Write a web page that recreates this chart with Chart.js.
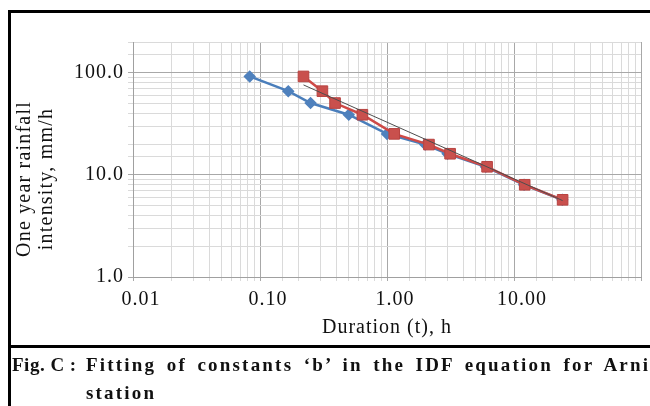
<!DOCTYPE html>
<html lang="en">
<head>
<meta charset="UTF-8">
<script src="https://cdn.jsdelivr.net/npm/chart.js"></script>
<style>
  body, html {
    margin: 0;
    padding: 0;
    background: #fff;
  }
  .page {
    position: relative;
    width: 650px;
    height: 406px;
    overflow: hidden;
    font-family: 'Liberation Serif', 'DejaVu Serif', serif;
  }
  .frame {
    position: absolute;
    left: 8px;
    top: 10px;
    width: 700px;
    height: 420px;
    border: 3px solid #000;
  }
  .separator {
    position: absolute;
    left: 8px;
    top: 345px;
    width: 700px;
    height: 3px;
    background: #000;
  }
  #chart {
    position: absolute;
    left: 0;
    top: 0;
  }
  .y-title {
    position: absolute;
    left: 34px;
    top: 179px;
    transform: translate(-50%, -50%) rotate(-90deg);
    white-space: nowrap;
    text-align: center;
    font-size: 20px;
    line-height: 22px;
    letter-spacing: 1.2px;
    color: #111;
  }
  .caption {
    position: absolute;
    font-weight: bold;
    font-size: 19px;
    letter-spacing: 0.5px;
    white-space: nowrap;
    color: #111;
  }
  .caption.wide {
    letter-spacing: 2.2px;
    word-spacing: 3.5px;
  }
</style>
</head>
<body>
<div class="page">
  <canvas id="chart" width="650" height="345"></canvas>
  <div class="frame"></div>
  <div class="separator"></div>
  <div class="y-title">One year rainfall<br>intensity, mm/h</div>
  <div class="caption" style="left:12px; top:354px;">Fig. C :</div>
  <div class="caption wide" style="left:86px; top:354px;">Fitting of constants ‘b’ in the IDF equation for Arni</div>
  <div class="caption wide" style="left:86px; top:382px;">station</div>
</div>
<script>
  // durations (h), observed and shifted by the constant b
  const durations = [0.083, 0.167, 0.25, 0.5, 1, 2, 3, 6, 12, 24];
  const durationsPlusB = [0.22, 0.31, 0.39, 0.64, 1.14, 2.14, 3.14, 6.14, 12.14, 24.14];
  // one year rainfall intensity (mm/h)
  const intensity = [92, 66, 50.5, 38.8, 25.2, 19.8, 16.1, 12.0, 8.0, 5.7];
  // fitted power trend line end points
  const trendX = [0.22, 24.14];
  const trendY = [76, 5.6];

  const isDecade = v => Math.abs(Math.log10(v) - Math.round(Math.log10(v))) < 1e-9;
  const gridColor = c => (c.tick && isDecade(c.tick.value)) ? '#a8a8a8' : '#dadada';

  function points(xs, ys) {
    return xs.map((x, i) => ({ x: x, y: ys[i] }));
  }

  new Chart(document.getElementById('chart'), {
    type: 'scatter',
    data: {
      datasets: [
        {
          label: 'Trend',
          data: points(trendX, trendY),
          showLine: true,
          borderColor: '#4d4d4d',
          borderWidth: 1,
          pointRadius: 0,
          order: 0
        },
        {
          label: 't + b',
          data: points(durationsPlusB, intensity),
          showLine: true,
          borderColor: '#cf4a47',
          backgroundColor: '#c9504d',
          borderWidth: 2.5,
          pointStyle: 'rect',
          pointRadius: 7.5,
          pointBorderColor: '#b84340',
          pointBorderWidth: 1,
          order: 1
        },
        {
          label: 't',
          data: points(durations, intensity),
          showLine: true,
          borderColor: '#4a7ebb',
          backgroundColor: '#4f81bd',
          borderWidth: 2.5,
          pointStyle: 'rectRot',
          pointRadius: 4.5,
          pointBorderColor: '#4f81bd',
          order: 2
        }
      ]
    },
    options: {
      responsive: false,
      animation: false,
      devicePixelRatio: 1,
      layout: { padding: { top: 42, right: 9, left: 0, bottom: 0 } },
      plugins: {
        legend: { display: false },
        tooltip: { enabled: false }
      },
      scales: {
        x: {
          type: 'logarithmic',
          min: 0.01,
          max: 100,
          afterFit: s => { s.height = 68; },
          border: { color: '#a0a0a0' },
          grid: { color: gridColor, tickColor: gridColor, tickLength: 4 },
          ticks: {
            autoSkip: false,
            maxRotation: 0,
            padding: 7,
            labelOffset: 8,
            color: '#111',
            font: { family: 'Liberation Serif', size: 20 },
            callback: v => (isDecade(v) && v < 100) ? v.toFixed(2) : ''
          },
          title: {
            display: true,
            text: 'Duration (t), h',
            color: '#111',
            font: { family: 'Liberation Serif', size: 20 },
            padding: { top: 0, bottom: 5 }
          }
        },
        y: {
          type: 'logarithmic',
          min: 1,
          max: 200,
          afterFit: s => { s.width = 133; },
          border: { color: '#a0a0a0' },
          grid: { color: gridColor, tickColor: gridColor, tickLength: 5 },
          ticks: {
            autoSkip: false,
            padding: 4,
            color: '#111',
            font: { family: 'Liberation Serif', size: 20 },
            callback: v => (isDecade(v) && v <= 100) ? v.toFixed(1) : ''
          }
        }
      }
    },
    plugins: [{
      id: 'spacing',
      beforeDraw(chart) { chart.ctx.letterSpacing = '1px'; }
    }]
  });
</script>
</body>
</html>
